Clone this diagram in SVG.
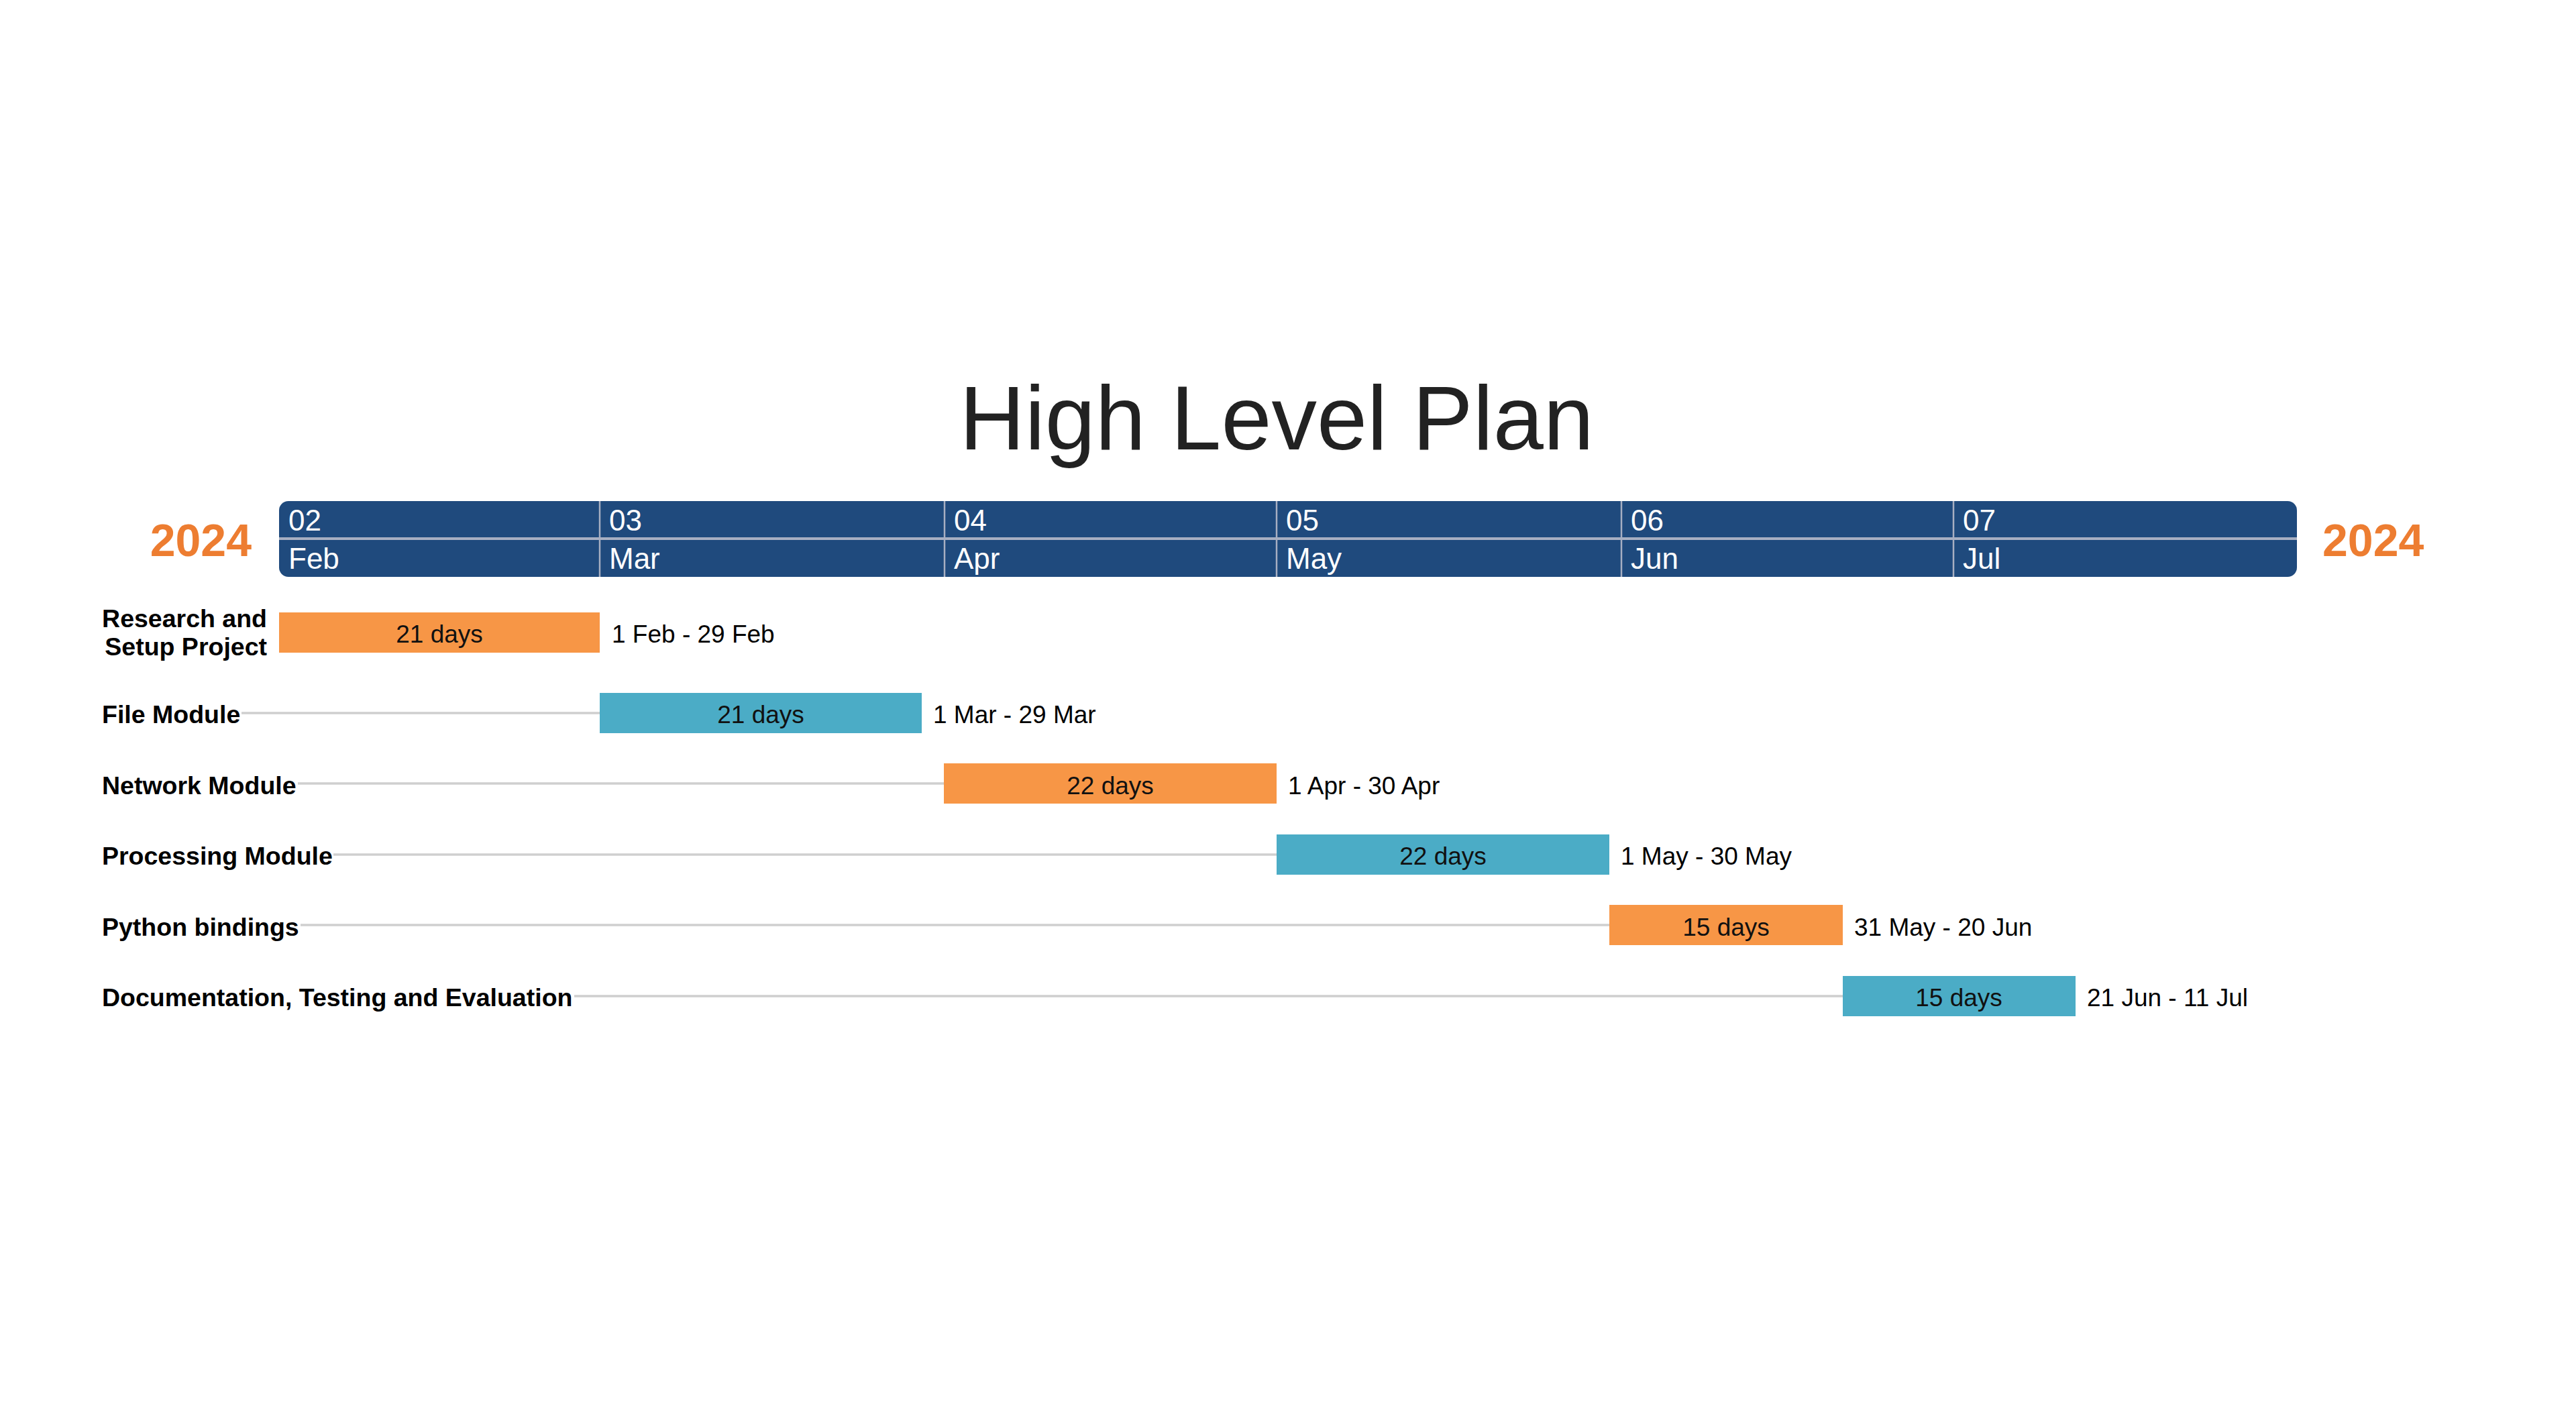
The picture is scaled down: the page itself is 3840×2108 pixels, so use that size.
<svg xmlns="http://www.w3.org/2000/svg" width="3840" height="2108" viewBox="0 0 3840 2108">
<style>
.title{font-family:"Liberation Sans",Arial,sans-serif;font-size:135px;fill:#222222}
.year{font-family:"Liberation Sans",Arial,sans-serif;font-size:68px;font-weight:bold;fill:#ed7d31}
.hdr{font-family:"Liberation Sans",Arial,sans-serif;font-size:44px;fill:#ffffff}
.lbl{font-family:"Liberation Sans",Arial,sans-serif;font-size:37.5px;font-weight:bold;fill:#000000}
.bt{font-family:"Liberation Sans",Arial,sans-serif;font-size:37px;fill:#111111;text-anchor:middle}
.dt{font-family:"Liberation Sans",Arial,sans-serif;font-size:37px;fill:#000000}
.sep{stroke:#a7afc2;stroke-width:2.5}
.guide{stroke:#cfcfcf;stroke-width:3.5}
.orange{fill:#f79646}
.blue{fill:#4bacc6}
</style>
<rect width="3840" height="2108" fill="#ffffff"/>
<text class="title" x="1903" y="670" text-anchor="middle">High Level Plan</text>
<g id="timescale">
<rect x="416" y="747" width="3008" height="113" rx="14" ry="14" fill="#1f4a7d"/>
<line class="sep" x1="416" y1="803" x2="3424" y2="803" style="stroke-width:4"/>
<line class="sep" x1="894" y1="747" x2="894" y2="860"/>
<line class="sep" x1="1408" y1="747" x2="1408" y2="860"/>
<line class="sep" x1="1903" y1="747" x2="1903" y2="860"/>
<line class="sep" x1="2417" y1="747" x2="2417" y2="860"/>
<line class="sep" x1="2912" y1="747" x2="2912" y2="860"/>
<text class="hdr" x="430" y="791">02</text><text class="hdr" x="430" y="848">Feb</text>
<text class="hdr" x="908" y="791">03</text><text class="hdr" x="908" y="848">Mar</text>
<text class="hdr" x="1422" y="791">04</text><text class="hdr" x="1422" y="848">Apr</text>
<text class="hdr" x="1917" y="791">05</text><text class="hdr" x="1917" y="848">May</text>
<text class="hdr" x="2431" y="791">06</text><text class="hdr" x="2431" y="848">Jun</text>
<text class="hdr" x="2926" y="791">07</text><text class="hdr" x="2926" y="848">Jul</text>
<text class="year" x="375" y="829" text-anchor="end">2024</text>
<text class="year" x="3462" y="829">2024</text>
</g>
<g id="connectors">
<line class="guide" x1="360" y1="1063" x2="894" y2="1063"/>
<line class="guide" x1="444" y1="1168" x2="1407" y2="1168"/>
<line class="guide" x1="497" y1="1274" x2="1903" y2="1274"/>
<line class="guide" x1="448" y1="1379" x2="2399" y2="1379"/>
<line class="guide" x1="856" y1="1485" x2="2747" y2="1485"/>
</g>
<g id="task1">
<text class="lbl" x="398" y="935" text-anchor="end">Research and</text>
<text class="lbl" x="398" y="977" text-anchor="end">Setup Project</text>
<rect class="orange" x="416" y="913" width="478" height="60"/>
<text class="bt" x="655" y="958">21 days</text>
<text class="dt" x="912" y="958">1 Feb - 29 Feb</text>
</g>
<g id="task2">
<text class="lbl" x="152" y="1078">File Module</text>
<rect class="blue" x="894" y="1033" width="480" height="60"/>
<text class="bt" x="1134" y="1078">21 days</text>
<text class="dt" x="1391" y="1078">1 Mar - 29 Mar</text>
</g>
<g id="task3">
<text class="lbl" x="152" y="1184">Network Module</text>
<rect class="orange" x="1407" y="1138" width="496" height="60"/>
<text class="bt" x="1655" y="1184">22 days</text>
<text class="dt" x="1920" y="1184">1 Apr - 30 Apr</text>
</g>
<g id="task4">
<text class="lbl" x="152" y="1289">Processing Module</text>
<rect class="blue" x="1903" y="1244" width="496" height="60"/>
<text class="bt" x="2151" y="1289">22 days</text>
<text class="dt" x="2416" y="1289">1 May - 30 May</text>
</g>
<g id="task5">
<text class="lbl" x="152" y="1395">Python bindings</text>
<rect class="orange" x="2399" y="1349" width="348" height="60"/>
<text class="bt" x="2573" y="1395">15 days</text>
<text class="dt" x="2764" y="1395">31 May - 20 Jun</text>
</g>
<g id="task6">
<text class="lbl" x="152" y="1500">Documentation, Testing and Evaluation</text>
<rect class="blue" x="2747" y="1455" width="347" height="60"/>
<text class="bt" x="2920" y="1500">15 days</text>
<text class="dt" x="3111" y="1500">21 Jun - 11 Jul</text>
</g>
</svg>
